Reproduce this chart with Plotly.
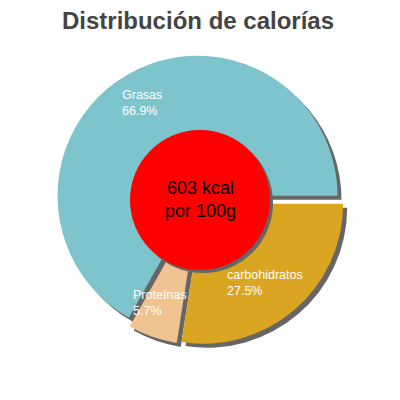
import plotly.graph_objects as go

# calorie split
labels = ["Grasas", "Proteínas", "carbohidratos"]
shares = [66.9, 5.7, 27.5]
colors = ["#7dc4cc", "#efc38f", "#daa520"]
total_kcal = 603
title = "Distribución de calorías"

W = H = 400
OFF = 8  # the page body margin pushes the figure 8px right and down
PULL = 0.035
R = 140
half = R * (1 + PULL)
FONT = "Liberation Sans, Arial"


def px_x(x):
    return (x - OFF) / W


def px_y(y):
    return 1 - (y - OFF) / H


def dom(dx=0, dy=0):
    cx, cy = 200 + dx, 200 + dy
    return dict(x=[px_x(cx - half), px_x(cx + half)],
                y=[px_y(cy + half), px_y(cy - half)])


# clockwise from 3 o'clock with the order reversed == counterclockwise from 3 o'clock
common = dict(values=shares[::-1], labels=labels[::-1], sort=False, direction="clockwise",
              rotation=90, pull=[PULL] * len(shares), textinfo="none",
              hoverinfo="skip", showlegend=False)

fig = go.Figure()
# drop shadow, same pie shifted a few pixels
fig.add_trace(go.Pie(**common, domain=dom(4, 4),
                     marker=dict(colors=["#666666"] * 3, line=dict(width=0))))
fig.add_trace(go.Pie(**common, domain=dom(),
                     marker=dict(colors=colors[::-1], line=dict(width=0))))


def text_block(x, y, text, size, color, anchor="left"):
    return dict(x=px_x(x), y=px_y(y), xref="paper", yref="paper",
                xanchor=anchor, yanchor="middle", align=anchor, showarrow=False,
                text=text, font=dict(family=FONT, size=size, color=color))


# label spots in screen pixels: left edge, middle of the two-line block
label_px = [(120, 103), (131, 303), (225, 283)]
ann = []
for (px, py), name, pct in zip(label_px, labels, shares):
    ann.append(text_block(px, py, f"{name}<br>{pct}%", 12.5, "white"))

ann.append(text_block(200, 199.5, f"{total_kcal} kcal<br>por 100g", 18, "black", "center"))


def circle(cx, cy, r, color):
    return dict(type="circle", xref="paper", yref="paper", layer="above",
                x0=px_x(cx - r), x1=px_x(cx + r),
                y0=px_y(cy + r), y1=px_y(cy - r),
                fillcolor=color, line=dict(width=0))


fig.update_layout(
    width=W, height=H, margin=dict(l=0, r=0, t=0, b=0),
    paper_bgcolor="white", plot_bgcolor="white",
    title=dict(text=f"<b>{title}</b>", x=px_x(198), xanchor="center",
               y=px_y(21), yanchor="middle",
               font=dict(family=FONT, size=24, color="#444444")),
    shapes=[circle(203, 203, 70, "#666666"), circle(200, 200, 70, "#ff0000")],
    annotations=ann,
)

fig.write_html("out.html")
